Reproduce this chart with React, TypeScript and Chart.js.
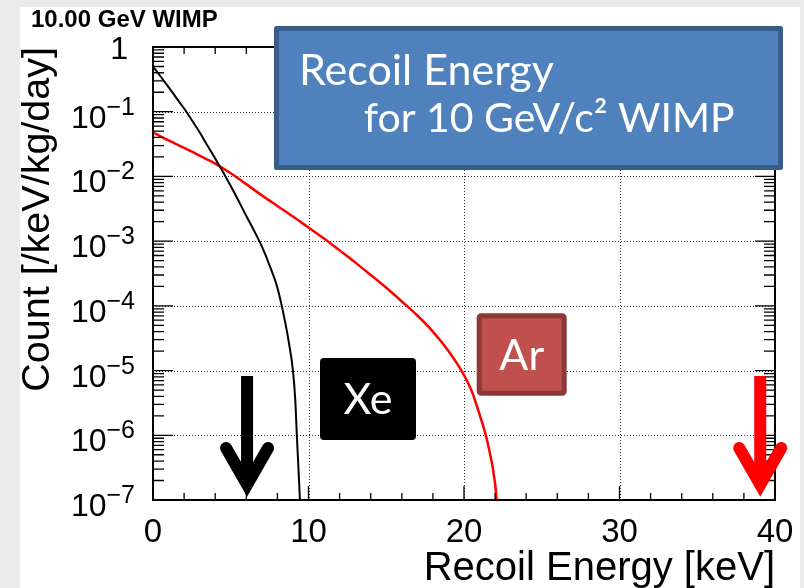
import React, { useEffect, useRef } from "react";
import { Chart, registerables } from "chart.js";

Chart.register(...registerables);

// ---- data ----
const xeEnergy = [0, 0.5, 1, 1.5, 2, 2.5, 3, 3.5, 4, 4.5, 5, 5.5, 6, 6.5, 7, 7.5, 8, 8.5, 8.75, 9.0, 9.15, 9.25, 9.35, 9.45, 9.55];
const xeRate = [0.5, 0.347, 0.24, 0.164, 0.112, 0.074, 0.048, 0.03, 0.019, 0.0117, 0.0071, 0.0042, 0.00245, 0.00145, 8.3e-4, 4.2e-4, 1.9e-4, 5.6e-5, 2.6e-5, 1.0e-5, 3.5e-6, 1.0e-6, 3.2e-7, 1.0e-7, 2.5e-8];

const arEnergy = [0, 1, 2, 3, 4, 5, 6, 7, 8, 9, 10, 11, 12, 13, 14, 15, 16, 17, 18, 19, 20, 20.5, 21, 21.5, 22, 22.2];
const arRate = [0.048, 0.036, 0.0275, 0.021, 0.0158, 0.0112, 0.0076, 0.0051, 0.0035, 0.0024, 0.00162, 0.0011, 7.2e-4, 4.7e-4, 3.0e-4, 1.9e-4, 1.17e-4, 7.1e-5, 4.0e-5, 2.0e-5, 8.5e-6, 4.8e-6, 2.1e-6, 8.0e-7, 1.8e-7, 5.0e-8];

const seriesNames = ["Xe", "Ar"];
const seriesColors = ["#000000", "#ff0000"];
const xMin = 0;
const xMax = 40;
const xStep = 10;
const xMinorStep = 2;
const xGridValues = [10, 20, 30];
const yDecadeExponents = [0, -1, -2, -3, -4, -5, -6, -7];
const arrowEnergies = [6.05, 39.05];
const arrowColors = ["#000000", "#ff0000"];

const chartTitle = "10.00 GeV WIMP";
const xTitle = "Recoil Energy [keV]";
const yTitle = "Count [/keV/kg/day]";
const boxLine1 = "Recoil Energy";
const boxLine2 = "for 10 GeV/c\u00B2 WIMP";

const SANS = "'Liberation Sans', Arial, Helvetica, sans-serif";

const rootPlugin = {
  id: "rootStyle",
  beforeDatasetsDraw(chart: any) {
    const { ctx, chartArea: ca, scales } = chart;
    const x = scales.x;
    const y = scales.y;
    ctx.save();
    ctx.strokeStyle = "#333";
    ctx.lineWidth = 1;
    ctx.setLineDash([1, 2]);
    ctx.beginPath();
    for (const v of xGridValues) {
      const px = Math.round(x.getPixelForValue(v)) + 0.5;
      ctx.moveTo(px, ca.top);
      ctx.lineTo(px, ca.bottom);
    }
    for (const e of yDecadeExponents) {
      if (e === 0 || e === -7) continue;
      const py = Math.round(y.getPixelForValue(Math.pow(10, e))) + 0.5;
      ctx.moveTo(ca.left, py);
      ctx.lineTo(ca.right, py);
    }
    ctx.stroke();
    ctx.restore();
  },
  afterDatasetsDraw(chart: any) {
    const { ctx, chartArea: ca, scales } = chart;
    const x = scales.x;
    const y = scales.y;
    ctx.save();

    // ticks (inward, ROOT style)
    ctx.strokeStyle = "#000";
    ctx.lineWidth = 1.3;
    ctx.beginPath();
    for (let v = xMin; v <= xMax + 1e-9; v += xMinorStep) {
      const px = x.getPixelForValue(v);
      const len = Math.abs(v % xStep) < 1e-9 ? 14 : 7;
      ctx.moveTo(px, ca.bottom);
      ctx.lineTo(px, ca.bottom - len);
      ctx.moveTo(px, ca.top);
      ctx.lineTo(px, ca.top + len);
    }
    for (const e of yDecadeExponents) {
      const base = Math.pow(10, e);
      const py = y.getPixelForValue(base);
      ctx.moveTo(ca.left, py);
      ctx.lineTo(ca.left + 20, py);
      ctx.moveTo(ca.right, py);
      ctx.lineTo(ca.right - 20, py);
      if (e === 0) continue;
      for (let m = 2; m <= 9; m++) {
        const pm = y.getPixelForValue(base * m);
        ctx.moveTo(ca.left, pm);
        ctx.lineTo(ca.left + 11, pm);
        ctx.moveTo(ca.right, pm);
        ctx.lineTo(ca.right - 11, pm);
      }
    }
    ctx.stroke();

    // frame
    ctx.lineWidth = 2;
    ctx.strokeRect(ca.left, ca.top, ca.right - ca.left, ca.bottom - ca.top);

    // y tick labels with exponents
    const labelRight = ca.left - 18;
    ctx.fillStyle = "#000";
    ctx.textAlign = "right";
    ctx.textBaseline = "alphabetic";
    for (const e of yDecadeExponents) {
      const py = y.getPixelForValue(Math.pow(10, e));
      if (e === 0) {
        ctx.font = `32px ${SANS}`;
        ctx.fillText("1", labelRight - 7, py + 11.5);
        continue;
      }
      const expText = "\u2212" + String(-e);
      ctx.font = `25px ${SANS}`;
      const we = ctx.measureText(expText).width;
      ctx.fillText(expText, labelRight, py + 3);
      ctx.font = `32px ${SANS}`;
      ctx.fillText("10", labelRight - we, py + 16);
    }

    // arrows
    for (let i = 0; i < arrowEnergies.length; i++) {
      const cx = x.getPixelForValue(arrowEnergies[i]);
      const col = arrowColors[i];
      ctx.fillStyle = col;
      ctx.strokeStyle = col;
      ctx.fillRect(cx - 6, ca.bottom - 124, 12, 110);
      ctx.lineWidth = 12;
      ctx.lineCap = "round";
      ctx.lineJoin = "miter";
      ctx.miterLimit = 10;
      ctx.beginPath();
      ctx.moveTo(cx - 21, ca.bottom - 52);
      ctx.lineTo(cx, ca.bottom - 15.4);
      ctx.lineTo(cx + 21, ca.bottom - 52);
      ctx.stroke();
    }

    // blue text box
    ctx.lineCap = "butt";
    ctx.lineJoin = "round";
    ctx.fillStyle = "#4f81bd";
    ctx.strokeStyle = "#385d8a";
    ctx.lineWidth = 5;
    ctx.beginPath();
    ctx.rect(256.5, 21.5, 504, 139);
    ctx.fill();
    ctx.stroke();
    ctx.fillStyle = "#ffffff";
    ctx.textAlign = "left";
    ctx.font = "43px Lato, 'Open Sans', sans-serif";
    ctx.fillText(boxLine1, 279, 77.7);
    ctx.font = "41px Lato, 'Open Sans', sans-serif";
    ctx.fillText(boxLine2, 343.7, 125.4);

    // Xe label box
    ctx.fillStyle = "#000000";
    ctx.beginPath();
    (ctx as any).roundRect(300, 351, 96, 82, 4);
    ctx.fill();
    ctx.fillStyle = "#ffffff";
    ctx.textAlign = "center";
    ctx.font = "43px Lato, 'Open Sans', sans-serif";
    ctx.fillText(seriesNames[0], 348, 407);

    // Ar label box
    ctx.fillStyle = "#c0504d";
    ctx.strokeStyle = "#8c3836";
    ctx.lineWidth = 5;
    ctx.beginPath();
    (ctx as any).roundRect(459.2, 308.8, 85, 77.4, 2);
    ctx.fill();
    ctx.stroke();
    ctx.fillStyle = "#ffffff";
    ctx.fillText(seriesNames[1], 501.7, 363);

    ctx.restore();
  },
};

export default function App() {
  const canvasRef = useRef<HTMLCanvasElement | null>(null);

  useEffect(() => {
    const canvas = canvasRef.current;
    if (!canvas) return;
    const chart = new Chart(canvas, {
      type: "line",
      data: {
        datasets: [
          {
            label: seriesNames[0],
            data: xeEnergy.map((e, i) => ({ x: e, y: xeRate[i] })),
            borderColor: seriesColors[0],
            borderWidth: 2,
            pointRadius: 0,
            cubicInterpolationMode: "monotone",
            fill: false,
          },
          {
            label: seriesNames[1],
            data: arEnergy.map((e, i) => ({ x: e, y: arRate[i] })),
            borderColor: seriesColors[1],
            borderWidth: 2.5,
            pointRadius: 0,
            cubicInterpolationMode: "monotone",
            fill: false,
          },
        ],
      },
      options: {
        animation: false,
        responsive: false,
        devicePixelRatio: 1,
        events: [],
        layout: { padding: { left: 11, right: 25, top: 0, bottom: 0 } },
        plugins: {
          legend: { display: false },
          tooltip: { enabled: false },
          title: {
            display: true,
            text: chartTitle,
            align: "start",
            color: "#000",
            font: { family: SANS, size: 24, weight: "bold", lineHeight: 1 },
            padding: { top: 1, bottom: 15 },
          },
        },
        scales: {
          x: {
            type: "linear",
            position: "bottom",
            min: xMin,
            max: xMax,
            grid: { display: false, drawTicks: false },
            border: { display: false },
            ticks: {
              stepSize: xStep,
              padding: 13,
              color: "#000",
              maxRotation: 0,
              autoSkip: false,
              font: { family: SANS, size: 33 },
            },
            title: {
              display: true,
              text: xTitle,
              align: "end",
              color: "#000",
              font: { family: SANS, size: 40, lineHeight: 0.96 },
              padding: 0,
            },
            afterFit: (s: any) => {
              s.height = 88;
              s.paddingLeft = 0;
              s.paddingRight = 0;
            },
          },
          y: {
            type: "logarithmic",
            position: "left",
            min: 1e-7,
            max: 1,
            grid: { display: false, drawTicks: false },
            border: { display: false },
            ticks: { display: false },
            title: {
              display: true,
              text: yTitle,
              align: "end",
              color: "#000",
              font: { family: SANS, size: 39.5, lineHeight: 1 },
              padding: { top: -12.3, bottom: 0 },
            },
            afterFit: (s: any) => {
              s.width = 122;
              s.paddingTop = 0;
              s.paddingBottom = 0;
            },
          },
        },
      },
      plugins: [rootPlugin],
    } as any);
    return () => chart.destroy();
  }, []);

  return (
    <div style={{ position: "fixed", left: 0, top: 0, width: 804, height: 588, background: "#ebebeb", overflow: "hidden" }}>
      <div style={{ position: "absolute", left: 20, top: 7, width: 780, height: 581, background: "#ffffff" }}>
        <canvas ref={canvasRef} width={780} height={581} style={{ display: "block", width: 780, height: 581 }} />
      </div>
    </div>
  );
}
